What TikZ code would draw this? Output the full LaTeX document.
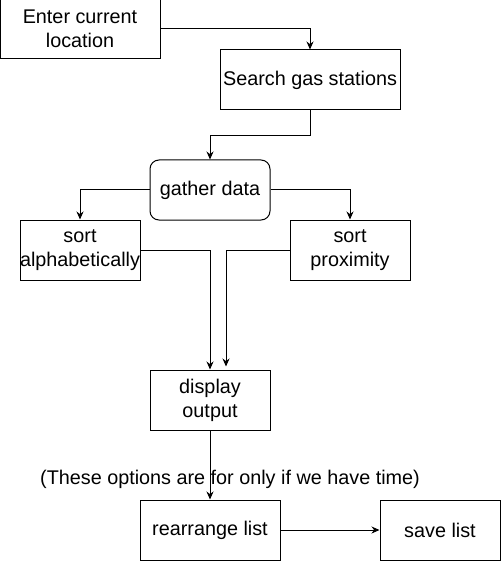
\documentclass[tikz,border=0pt]{standalone}
\usepackage{fontspec}
\setmainfont{Liberation Sans}
\usetikzlibrary{arrows.meta}
\begin{document}
\begin{tikzpicture}[x=1pt,y=-1pt,
  box/.style={draw,line width=1pt,minimum width=#1,minimum height=60pt,inner sep=0pt,align=center,font=\fontsize{19.8}{24}\selectfont},
  box/.default=120pt,
  link/.style={draw,line width=1pt,-{Stealth[length=8pt,width=7pt]}}]
	\useasboundingbox (0,0) rectangle (501,561);
	% boxes
	\node [box=160pt] (enter) at (80,29) {Enter current\\location};
	\node [box=180pt] (search) at (310,80) {Search gas stations};
	\node [box,rounded corners=9pt] (gather) at (210,190) {gather data};
	\node [box] (sortalpha) at (80,250) {sort\\alphabetically};
	\node [box] (sortprox) at (350,250) {sort\\proximity};
	\node [box] (display) at (210,400) {display\\output};
	\node [font=\fontsize{19.8}{24}\selectfont] (note) at (230,479) {(These options are for only if we have time)};
	\node [box=140pt] (rearrange) at (210,530) {rearrange list};
	\node [box] (save) at (440,530) {save list};

	\draw[link] (enter.east) -| (search.north);
	\draw[link] (search.south) -- ++(0,25) -| (gather.north);
	\draw[link] (gather.west) -| (sortalpha.north);
	\draw[link] (gather.east) -| (sortprox.north);
	\draw[link] (sortalpha.east) -| (display.north);
	\draw[link,shorten >=3pt] (sortprox.west) -| ([xshift=16pt]display.north);
	\draw[link] (display.south) -- (rearrange.north);
	\draw[link] (rearrange.east) -- (save.west);
\end{tikzpicture}
\end{document}
